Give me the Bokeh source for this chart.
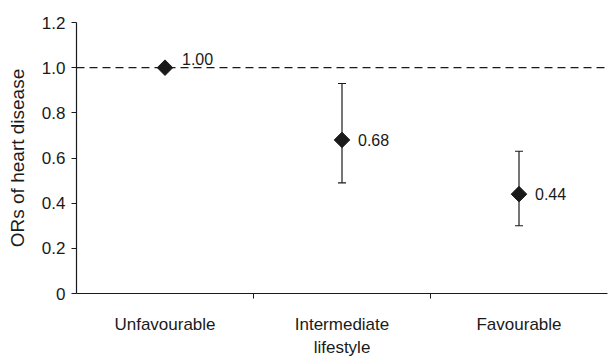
import math
from bokeh.plotting import figure
from bokeh.models import (ColumnDataSource, FixedTicker, Span, Whisker, TeeHead,
                          Range1d, LabelSet)
from bokeh.core.properties import value
from bokeh.embed import file_html
from bokeh.resources import INLINE

categories = ["Unfavourable", "Intermediate", "Favourable"]
ors = [1.00, 0.68, 0.44]
lower = [1.00, 0.49, 0.30]
upper = [1.00, 0.93, 0.63]
value_labels = ["1.00", "0.68", "0.44"]
y_ticks = [0, 0.2, 0.4, 0.6, 0.8, 1.0, 1.2]
y_tick_labels = ["0", "0.2", "0.4", "0.6", "0.8", "1.0", "1.2"]
x_title = "lifestyle"
y_title = "ORs of heart disease"

FONT = "Liberation Sans"
INK = "#1a1a1a"

xpos = [i + 0.5 for i in range(len(categories))]
src = ColumnDataSource(dict(x=xpos, y=ors))
src_err = ColumnDataSource(dict(x=xpos[1:], lo=lower[1:], hi=upper[1:]))
src_lab0 = ColumnDataSource(dict(x=xpos[:1], y=ors[:1], lab=value_labels[:1]))
src_lab = ColumnDataSource(dict(x=xpos[1:], y=ors[1:], lab=value_labels[1:]))

p = figure(width=611, height=359, output_backend="svg", toolbar_location=None,
           x_range=Range1d(0, 3), y_range=Range1d(0, 1.2),
           min_border_left=76, min_border_top=22, min_border_right=4,
           min_border_bottom=60)
p.outline_line_color = None
p.xgrid.visible = False
p.ygrid.visible = False
p.background_fill_color = "white"

# reference line
p.add_layout(Span(location=1.0, dimension="width", line_color=INK,
                  line_width=1.4, line_dash="8 5"))

# error bars
p.add_layout(Whisker(source=src_err, base="x", lower="lo", upper="hi",
                     line_color=INK, line_width=1.2,
                     upper_head=TeeHead(size=8, line_color=INK, line_width=1.2),
                     lower_head=TeeHead(size=8, line_color=INK, line_width=1.2)))

p.scatter("x", "y", source=src, marker="square", size=11, angle=math.pi / 4,
          fill_color=INK, line_color=INK)

p.add_layout(LabelSet(x="x", y="y", text="lab", source=src_lab0, x_offset=17,
                      y_offset=9, text_baseline="middle",
                      text_font=value(FONT), text_font_size=value("16px"),
                      text_color=value(INK)))
p.add_layout(LabelSet(x="x", y="y", text="lab", source=src_lab, x_offset=16,
                      y_offset=0, text_baseline="middle",
                      text_font=value(FONT), text_font_size=value("16px"),
                      text_color=value(INK)))

# x axis
xa = p.xaxis[0]
xa.ticker = FixedTicker(ticks=xpos, minor_ticks=[1, 2])
xa.major_label_overrides = {x: c for x, c in zip(xpos, categories)}
xa.major_tick_out = 0
xa.major_tick_in = 0
xa.minor_tick_out = 5
xa.minor_tick_in = 0
xa.major_label_standoff = 16
xa.axis_label = x_title
xa.axis_label_standoff = 1
xa.axis_label_text_font = FONT
xa.axis_label_text_font_style = "normal"
xa.axis_label_text_font_size = "17px"
xa.axis_label_text_color = INK
xa.major_label_text_font = FONT
xa.major_label_text_font_size = "17px"
xa.major_label_text_color = INK
xa.axis_line_color = INK
xa.axis_line_width = 1.2
xa.minor_tick_line_color = INK

# y axis
ya = p.yaxis[0]
ya.ticker = FixedTicker(ticks=y_ticks, minor_ticks=[])
ya.major_label_overrides = {t: l for t, l in zip(y_ticks, y_tick_labels)}
ya.major_tick_out = 5
ya.major_tick_in = 0
ya.major_label_standoff = 6
ya.axis_label = y_title
ya.axis_label_standoff = 11
ya.axis_label_text_font = FONT
ya.axis_label_text_font_style = "normal"
ya.axis_label_text_font_size = "19px"
ya.axis_label_text_color = INK
ya.major_label_text_font = FONT
ya.major_label_text_font_size = "17px"
ya.major_label_text_color = INK
ya.axis_line_color = INK
ya.axis_line_width = 1.2
ya.major_tick_line_color = INK

open("out.html", "w").write(file_html(p, INLINE))
